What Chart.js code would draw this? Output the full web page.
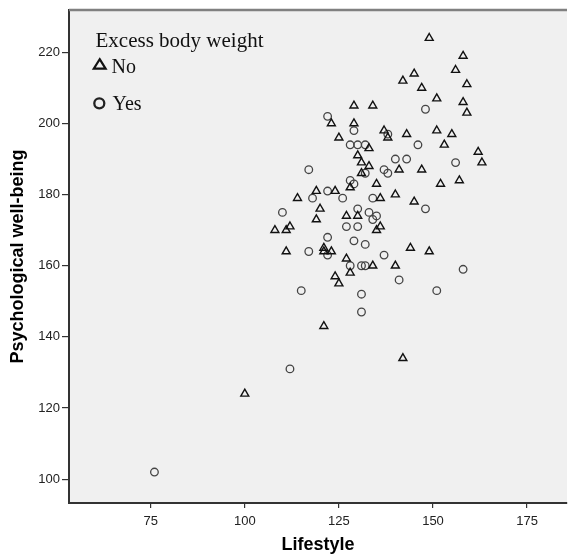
<!DOCTYPE html>
<html>
<head>
<meta charset="utf-8">
<style>
  body { margin: 0; background: #fff; }
  #chart { display: block; }
</style>
</head>
<body>
<canvas id="chart" width="573" height="557"></canvas>
<script src="https://cdn.jsdelivr.net/npm/chart.js"></script>
<script>
  // Lifestyle (x) vs psychological well-being (y), split by excess body weight
  const groupLabels = ["No", "Yes"];
  const legendTitle = "Excess body weight";
  const noPoints = [
    [149, 224], [158, 219], [145, 214], [156, 215], [142, 212], [159, 211], [147, 210],
    [151, 207], [158, 206], [159, 203], [129, 205], [134, 205], [123, 200], [129, 200],
    [125, 196], [137, 198], [138, 196], [143, 197], [151, 198], [155, 197], [153, 194],
    [133, 193], [162, 192], [130, 191], [163, 189], [131, 189], [133, 188], [141, 187],
    [147, 187], [131, 186], [157, 184], [152, 183], [135, 183], [128, 182], [119, 181],
    [124, 181], [114, 179], [136, 179], [140, 180], [145, 178], [120, 176], [127, 174],
    [130, 174], [119, 173], [136, 171], [135, 170], [108, 170], [111, 170], [112, 171],
    [111, 164], [121, 165], [121, 164], [123, 164], [144, 165], [149, 164], [127, 162],
    [134, 160], [140, 160], [128, 158], [124, 157], [125, 155], [121, 143], [142, 134],
    [100, 124]
  ];
  const yesPoints = [
    [122, 202], [148, 204], [129, 198], [138, 197], [128, 194], [130, 194], [132, 194],
    [146, 194], [140, 190], [143, 190], [156, 189], [117, 187], [137, 187], [138, 186],
    [132, 186], [128, 184], [129, 183], [122, 181], [118, 179], [126, 179], [134, 179],
    [110, 175], [130, 176], [133, 175], [135, 174], [134, 173], [148, 176], [127, 171],
    [130, 171], [122, 168], [129, 167], [132, 166], [117, 164], [122, 163], [137, 163],
    [128, 160], [131, 160], [132, 160], [158, 159], [141, 156], [115, 153], [151, 153],
    [131, 152], [131, 147], [112, 131], [76, 102]
  ];
  const xTicks = [75, 100, 125, 150, 175];
  const yTicks = [100, 120, 140, 160, 180, 200, 220];

  const toXY = (arr) => arr.map(([x, y]) => ({ x: x, y: y }));

  const plotBackground = {
    id: "plotBackground",
    beforeDraw: (chart) => {
      const { ctx, chartArea: a } = chart;
      ctx.save();
      ctx.fillStyle = "#f0f0f0";
      ctx.fillRect(a.left, a.top, a.right - a.left, a.bottom - a.top);
      ctx.restore();
    },
    afterDraw: (chart) => {
      const { ctx, chartArea: a } = chart;
      ctx.save();
      // top frame line
      ctx.strokeStyle = "#808080";
      ctx.lineWidth = 2.5;
      ctx.beginPath();
      ctx.moveTo(a.left, a.top);
      ctx.lineTo(a.right, a.top);
      ctx.stroke();

      // legend inside the plot
      ctx.fillStyle = "#111";
      ctx.textBaseline = "alphabetic";
      ctx.textAlign = "left";
      ctx.font = '21px "Liberation Serif", "Times New Roman", serif';
      ctx.fillText(legendTitle, 95.5, 46.7);
      ctx.font = '20px "Liberation Serif", "Times New Roman", serif';
      ctx.fillText(groupLabels[0], 111.5, 72.7);
      ctx.fillText(groupLabels[1], 112.5, 110);

      ctx.strokeStyle = "#111";
      ctx.lineWidth = 2.2;
      ctx.beginPath();
      ctx.moveTo(99.7, 59.2);
      ctx.lineTo(105.6, 68.6);
      ctx.lineTo(93.8, 68.6);
      ctx.closePath();
      ctx.stroke();

      ctx.strokeStyle = "#222";
      ctx.lineWidth = 2.3;
      ctx.beginPath();
      ctx.arc(99.3, 103.3, 5, 0, Math.PI * 2);
      ctx.stroke();
      ctx.restore();
    },
  };

  const tickFont = { family: '"Liberation Sans", Arial, sans-serif', size: 13 };
  const titleFont = { family: '"Liberation Sans", Arial, sans-serif', size: 18, weight: "bold" };

  new Chart(document.getElementById("chart"), {
    type: "scatter",
    data: {
      datasets: [
        {
          label: groupLabels[0],
          data: toXY(noPoints),
          pointStyle: "triangle",
          radius: 4.6,
          borderColor: "#111",
          borderWidth: 1.4,
          backgroundColor: "rgba(0,0,0,0)",
        },
        {
          label: groupLabels[1],
          data: toXY(yesPoints),
          pointStyle: "circle",
          radius: 3.8,
          borderColor: "#444",
          borderWidth: 1.3,
          backgroundColor: "rgba(0,0,0,0)",
        },
      ],
    },
    options: {
      responsive: false,
      animation: false,
      layout: { padding: { top: 10, right: 0, bottom: 0, left: 0 } },
      plugins: {
        legend: { display: false },
        tooltip: { enabled: false },
      },
      scales: {
        x: {
          type: "linear",
          min: 53.3,
          max: 185.6,
          afterBuildTicks: (s) => { s.ticks = xTicks.map((v) => ({ value: v })); },
          afterFit: (s) => { s.height = 54; },
          grid: { drawOnChartArea: false, drawTicks: true, tickLength: 5, color: "#333", lineWidth: 1.2 },
          border: { display: true, color: "#333", width: 2 },
          ticks: { font: tickFont, color: "#222", padding: 6, maxRotation: 0 },
          title: { display: true, text: "Lifestyle", font: titleFont, color: "#000", padding: { top: 0, bottom: 1 } },
        },
        y: {
          type: "linear",
          min: 93.3,
          max: 231.9,
          afterBuildTicks: (s) => { s.ticks = yTicks.map((v) => ({ value: v })); },
          afterFit: (s) => { s.width = 69; },
          grid: { drawOnChartArea: false, drawTicks: true, tickLength: 7, color: "#333", lineWidth: 1.2 },
          border: { display: true, color: "#333", width: 2 },
          ticks: { font: tickFont, color: "#222", padding: 2 },
          title: { display: true, text: "Psychological well-being", font: titleFont, color: "#000", padding: { top: 7, bottom: 0 } },
        },
      },
    },
    plugins: [plotBackground],
  });
</script>
</body>
</html>
